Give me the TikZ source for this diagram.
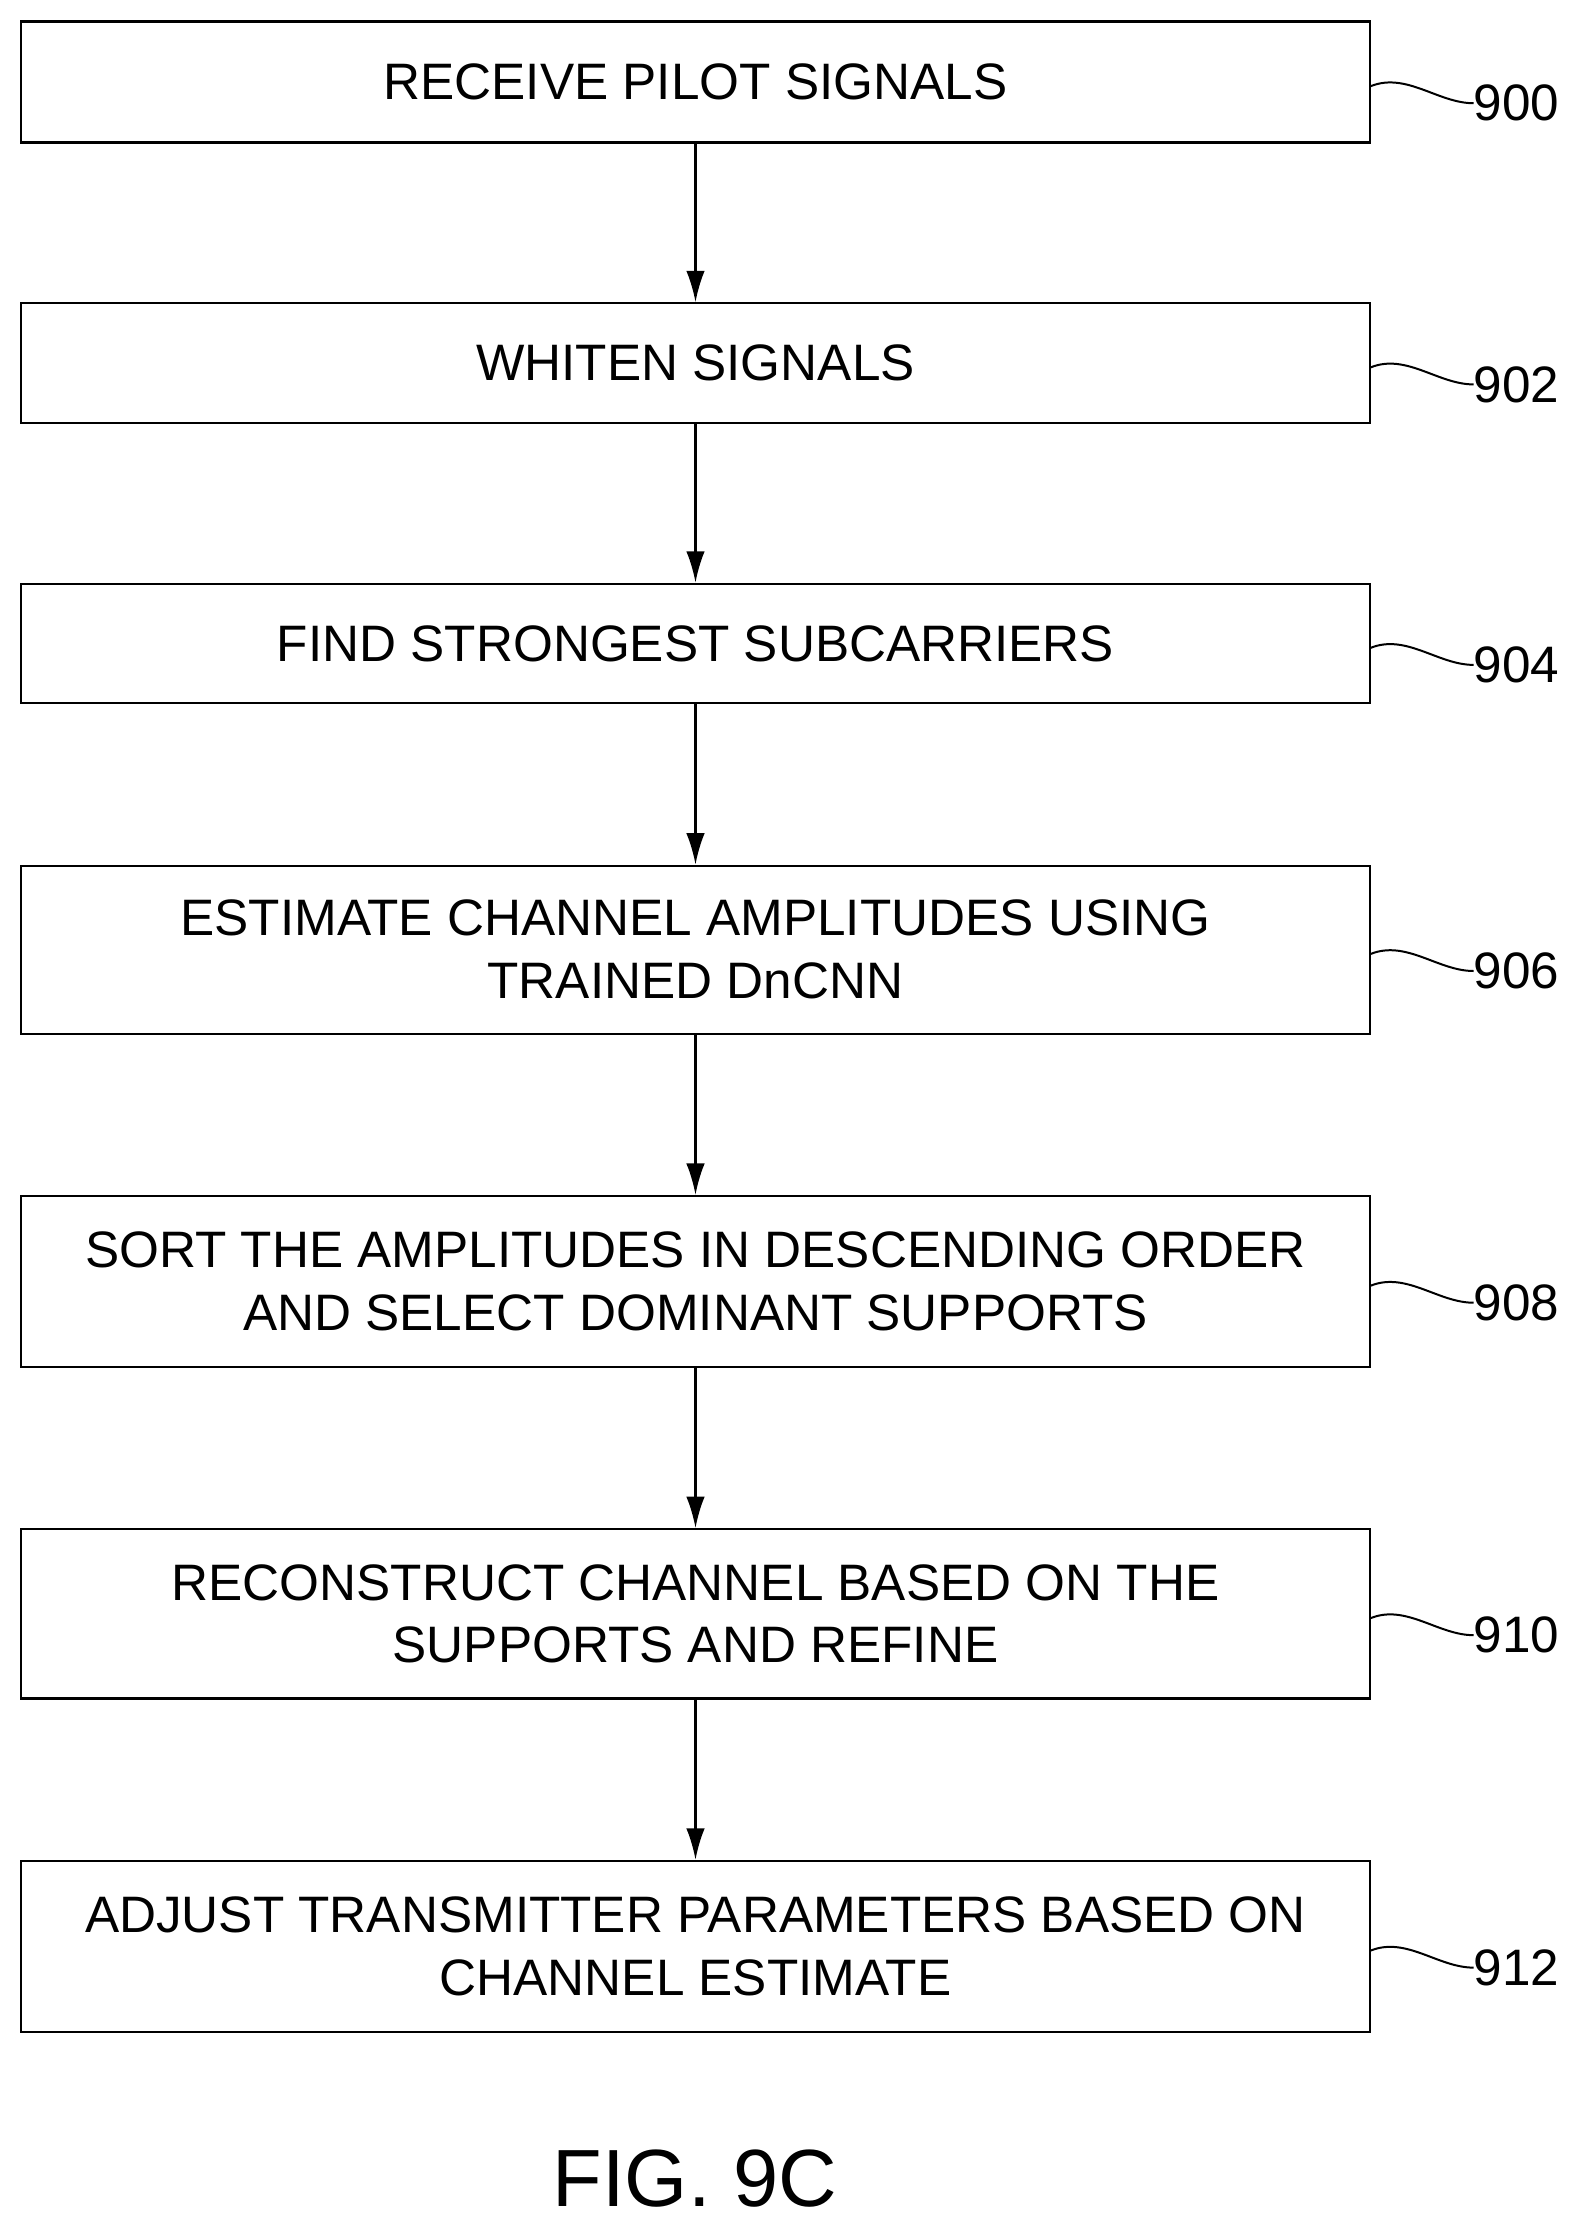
\documentclass[tikz,border=0pt]{standalone}
\usepackage{fontspec}
\usetikzlibrary{arrows.meta}
\setmainfont{Liberation Sans}
\begin{document}
\begin{tikzpicture}[x=1pt,y=-1pt,
 box/.style={draw,line width=1.6pt,minimum width=947pt,align=center,font=\fontsize{36}{44}\selectfont,inner sep=0pt},
 arr/.style={line width=1.6pt,-{Latex[length=22pt,width=13pt]}},
 lab/.style={font=\fontsize{36}{40}\selectfont,anchor=west,inner sep=0pt},
 sq/.style={line width=1.4pt}]
\useasboundingbox (0,0) rectangle (1111,1567);
\def\bx#1#2#3#4#5{\node[box,minimum height=#3-#2 pt] (#1) at (488.5,{(#2+#3)/2}) {#4};
 \node[lab] (l#1) at (1035,{(#2+#3)/2+15}) {#5};
 \draw[sq] (#1.east) ++(0,3) .. controls ++(25,-10) and ++(-25,0) .. (l#1.west);}
\bx{a}{15}{100}{RECEIVE PILOT SIGNALS}{900}
\bx{b}{213}{297}{WHITEN SIGNALS}{902}
\bx{c}{410}{494}{FIND STRONGEST SUBCARRIERS}{904}
\bx{d}{608}{726}{ESTIMATE CHANNEL AMPLITUDES USING\\TRAINED DnCNN}{906}
\bx{e}{840}{960}{SORT THE AMPLITUDES IN DESCENDING ORDER\\AND SELECT DOMINANT SUPPORTS}{908}
\bx{f}{1074}{1193}{RECONSTRUCT CHANNEL BASED ON THE\\SUPPORTS AND REFINE}{910}
\bx{g}{1307}{1427}{ADJUST TRANSMITTER PARAMETERS BASED ON\\CHANNEL ESTIMATE}{912}
\draw[arr] (a) -- (b);
\draw[arr] (b) -- (c);
\draw[arr] (c) -- (d);
\draw[arr] (d) -- (e);
\draw[arr] (e) -- (f);
\draw[arr] (f) -- (g);
\node[font=\fontsize{57}{64}\selectfont] (fig) at (488,1530) {FIG. 9C};
\end{tikzpicture}
\end{document}
